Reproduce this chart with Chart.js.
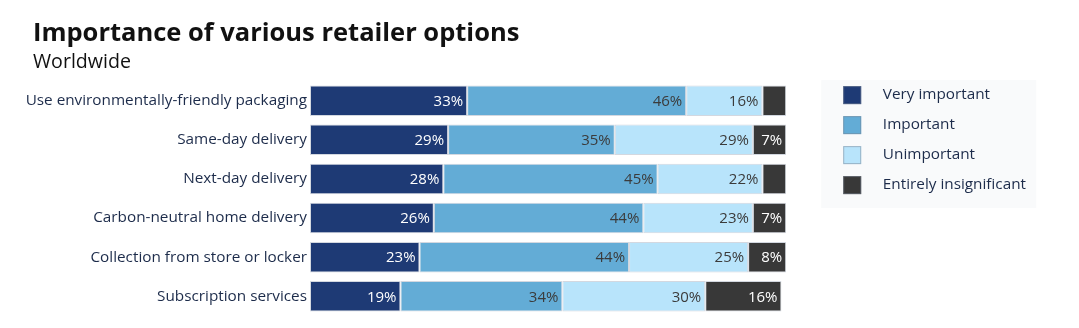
<!DOCTYPE html>
<html lang="en">
<head>
<meta charset="UTF-8" />
<title>Importance of various retailer options</title>
<script src="https://cdn.jsdelivr.net/npm/chart.js@4.4.0/dist/chart.umd.min.js"></script>
<style>
html,body{margin:0;padding:0;background:#fff}
#wrap{position:relative;width:1079px;height:328px}
</style>
</head>
<body>
<div id="wrap"><canvas id="chart"></canvas></div>
<script>
/* ---------- data ---------- */
const CATEGORIES = [
  'Use environmentally-friendly packaging',
  'Same-day delivery',
  'Next-day delivery',
  'Carbon-neutral home delivery',
  'Collection from store or locker',
  'Subscription services'
];
const SERIES = ['Very important','Important','Unimportant','Entirely insignificant'];
const VERY_IMPORTANT = [33,29,28,26,23,19];
const IMPORTANT      = [46,35,45,44,44,34];
const UNIMPORTANT    = [16,29,22,23,25,30];
const INSIGNIFICANT  = [5,7,5,7,8,16];

/* ---------- styles ---------- */
const COLORS = ['#1e3a75','#63acd6','#b8e4fb','#383838'];
const LABEL_COLORS = ['#ffffff','#3b3b3b','#3b3b3b','#ffffff'];
const NAVY_TEXT = '#1c2b4a';
const FONT = '"Open Sans", sans-serif';
const LEG_SHIFT = 45, LEG_UP = 7, SQ = 18;

/* value labels at the end of each segment */
const segLabels = {
  id:'segLabels',
  afterDatasetsDraw(chart){
    const ctx = chart.ctx;
    ctx.save();
    ctx.font = '15px ' + FONT;
    ctx.textAlign = 'right';
    ctx.textBaseline = 'middle';
    chart.data.datasets.forEach((ds,di)=>{
      chart.getDatasetMeta(di).data.forEach((bar,i)=>{
        const txt = ds.data[i] + '%';
        const {x, base, y} = bar.getProps(['x','base','y'], true);
        if (x - base < ctx.measureText(txt).width + 8) return;
        ctx.fillStyle = LABEL_COLORS[di];
        ctx.fillText(txt, x - 4, y + 1);
      });
    });
    ctx.restore();
  }
};

/* layout tweaks: gap after the bars, pale legend panel, square markers */
const layoutFix = {
  id:'layoutFix',
  afterInit(chart){
    const lg = chart.legend;
    const fit = lg.fit;
    lg.fit = function(){ fit.call(this); this.width += LEG_SHIFT; };
  },
  afterLayout(chart){
    chart.legend.left += LEG_SHIFT;
    chart.legend.top -= LEG_UP;
    chart.scales.y.left -= 12;   // long first label would be clipped otherwise
  },
  beforeDraw(chart){
    const lg = chart.legend, ctx = chart.ctx;
    ctx.save();
    ctx.fillStyle = '#f9fafb';
    ctx.fillRect(lg.left - 10, lg.top + 6, 215, 128);
    ctx.restore();
  },
  afterDraw(chart){
    const lg = chart.legend, ctx = chart.ctx;
    ctx.save();
    (lg.legendHitBoxes || []).forEach((hb,i)=>{
      ctx.fillStyle = COLORS[i];
      ctx.fillRect(hb.left, hb.top, SQ, SQ);
      ctx.strokeStyle = 'rgba(120,130,145,0.5)';
      ctx.lineWidth = 1;
      ctx.strokeRect(hb.left + .5, hb.top + .5, SQ - 1, SQ - 1);
    });
    ctx.restore();
  }
};

new Chart(document.getElementById('chart'), {
  type:'bar',
  data:{
    labels:CATEGORIES,
    datasets:[VERY_IMPORTANT, IMPORTANT, UNIMPORTANT, INSIGNIFICANT].map((d,i)=>({
      label:SERIES[i], data:d,
      backgroundColor:COLORS[i], borderColor:'#d3d8e0', borderWidth:1, borderSkipped:false,
      barPercentage:0.78, categoryPercentage:1
    }))
  },
  options:{
    indexAxis:'y',
    responsive:true, maintainAspectRatio:false, animation:false,
    layout:{padding:{left:33, right:43, top:0, bottom:10}},
    scales:{
      x:{stacked:true, min:0, max:100, display:false},
      y:{stacked:true, grid:{display:false, drawTicks:false}, border:{display:false},
         afterFit(scale){ scale.width = 277; },
         ticks:{color:NAVY_TEXT, font:{family:FONT, size:15.3}, padding:3}}
    },
    plugins:{
      title:{display:true, text:'Importance of various retailer options', align:'start',
             color:'#111', font:{family:FONT, size:25.5, weight:'bold'}, padding:{top:18, bottom:2}},
      subtitle:{display:true, text:'Worldwide', align:'start',
             color:'#111', font:{family:FONT, size:19.6, weight:'normal'}, padding:{top:0, bottom:7}},
      legend:{position:'right', align:'start', fullSize:false,
        labels:{boxWidth:32, boxHeight:18, padding:12, color:NAVY_TEXT,
                font:{family:FONT, size:15.3},
                generateLabels(chart){
                  return Chart.defaults.plugins.legend.labels.generateLabels(chart).map(it=>
                    Object.assign(it, {fillStyle:'rgba(0,0,0,0)', strokeStyle:'rgba(0,0,0,0)', lineWidth:0}));
                }}},
      tooltip:{enabled:false}
    }
  },
  plugins:[segLabels, layoutFix]
});
</script>
</body>
</html>
